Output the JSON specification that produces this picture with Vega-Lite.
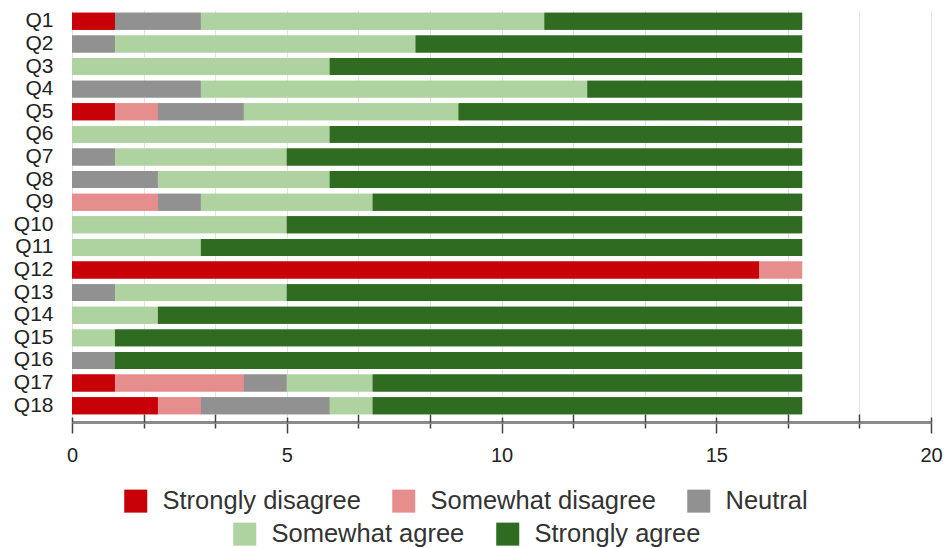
{
  "$schema": "https://vega.github.io/schema/vega-lite/v6.json",
  "width": 859,
  "height": 407,
  "autosize": {"type": "none"},
  "padding": {"left": 72, "top": 10, "right": 16, "bottom": 131},
  "config": {
    "font": "Liberation Sans",
    "view": {"stroke": null},
    "legend": {
      "labelFontSize": 25.5,
      "labelFont": "Liberation Sans",
      "labelColor": "#333333",
      "symbolType": "square",
      "symbolSize": 530,
      "symbolStrokeWidth": 0,
      "labelOffset": 14,
      "columnPadding": 30,
      "direction": "horizontal",
      "padding": 0,
      "labelLimit": 400
    }
  },
  "data": {
    "values": [
      {"q": "Q1", "r": "Strongly disagree", "n": 1},
      {"q": "Q1", "r": "Neutral", "n": 2},
      {"q": "Q1", "r": "Somewhat agree", "n": 8},
      {"q": "Q1", "r": "Strongly agree", "n": 6},
      {"q": "Q2", "r": "Neutral", "n": 1},
      {"q": "Q2", "r": "Somewhat agree", "n": 7},
      {"q": "Q2", "r": "Strongly agree", "n": 9},
      {"q": "Q3", "r": "Somewhat agree", "n": 6},
      {"q": "Q3", "r": "Strongly agree", "n": 11},
      {"q": "Q4", "r": "Neutral", "n": 3},
      {"q": "Q4", "r": "Somewhat agree", "n": 9},
      {"q": "Q4", "r": "Strongly agree", "n": 5},
      {"q": "Q5", "r": "Strongly disagree", "n": 1},
      {"q": "Q5", "r": "Somewhat disagree", "n": 1},
      {"q": "Q5", "r": "Neutral", "n": 2},
      {"q": "Q5", "r": "Somewhat agree", "n": 5},
      {"q": "Q5", "r": "Strongly agree", "n": 8},
      {"q": "Q6", "r": "Somewhat agree", "n": 6},
      {"q": "Q6", "r": "Strongly agree", "n": 11},
      {"q": "Q7", "r": "Neutral", "n": 1},
      {"q": "Q7", "r": "Somewhat agree", "n": 4},
      {"q": "Q7", "r": "Strongly agree", "n": 12},
      {"q": "Q8", "r": "Neutral", "n": 2},
      {"q": "Q8", "r": "Somewhat agree", "n": 4},
      {"q": "Q8", "r": "Strongly agree", "n": 11},
      {"q": "Q9", "r": "Somewhat disagree", "n": 2},
      {"q": "Q9", "r": "Neutral", "n": 1},
      {"q": "Q9", "r": "Somewhat agree", "n": 4},
      {"q": "Q9", "r": "Strongly agree", "n": 10},
      {"q": "Q10", "r": "Somewhat agree", "n": 5},
      {"q": "Q10", "r": "Strongly agree", "n": 12},
      {"q": "Q11", "r": "Somewhat agree", "n": 3},
      {"q": "Q11", "r": "Strongly agree", "n": 14},
      {"q": "Q12", "r": "Strongly disagree", "n": 16},
      {"q": "Q12", "r": "Somewhat disagree", "n": 1},
      {"q": "Q13", "r": "Neutral", "n": 1},
      {"q": "Q13", "r": "Somewhat agree", "n": 4},
      {"q": "Q13", "r": "Strongly agree", "n": 12},
      {"q": "Q14", "r": "Somewhat agree", "n": 2},
      {"q": "Q14", "r": "Strongly agree", "n": 15},
      {"q": "Q15", "r": "Somewhat agree", "n": 1},
      {"q": "Q15", "r": "Strongly agree", "n": 16},
      {"q": "Q16", "r": "Neutral", "n": 1},
      {"q": "Q16", "r": "Strongly agree", "n": 16},
      {"q": "Q17", "r": "Strongly disagree", "n": 1},
      {"q": "Q17", "r": "Somewhat disagree", "n": 3},
      {"q": "Q17", "r": "Neutral", "n": 1},
      {"q": "Q17", "r": "Somewhat agree", "n": 2},
      {"q": "Q17", "r": "Strongly agree", "n": 10},
      {"q": "Q18", "r": "Strongly disagree", "n": 2},
      {"q": "Q18", "r": "Somewhat disagree", "n": 1},
      {"q": "Q18", "r": "Neutral", "n": 3},
      {"q": "Q18", "r": "Somewhat agree", "n": 1},
      {"q": "Q18", "r": "Strongly agree", "n": 10}
    ]
  },
  "transform": [
    {"calculate": "indexof(['Strongly disagree','Somewhat disagree','Neutral','Somewhat agree','Strongly agree'], datum.r)", "as": "o"}
  ],
  "encoding": {
    "y": {
      "field": "q",
      "type": "nominal",
      "sort": null,
      "scale": {"paddingInner": 0.25, "paddingOuter": 0.125},
      "axis": {
        "title": null,
        "domain": false,
        "ticks": false,
        "tickSize": 0,
        "labelPadding": 19,
        "labelFontSize": 21,
        "labelColor": "#222222",
        "labelFont": "Liberation Sans"
      }
    },
    "order": {"field": "o", "type": "quantitative"}
  },
  "layer": [
    {
      "mark": {"type": "bar"},
      "encoding": {
        "x": {
          "field": "n",
          "type": "quantitative",
          "stack": "zero",
          "scale": {"domain": [0, 20], "nice": false},
          "axis": {
            "orient": "bottom",
            "title": null,
            "offset": 5,
            "values": [0, 1.6666667, 3.3333333, 5, 6.6666667, 8.3333333, 10, 11.6666667, 13.3333333, 15, 16.6666667, 18.3333333, 20],
            "labelExpr": "abs(datum.value - round(datum.value / 5) * 5) < 0.01 ? format(datum.value, 'd') : ''",
            "labelFontSize": 20,
            "labelColor": "#222222",
            "labelPadding": 12,
            "labelFlush": false,
            "labelOverlap": false,
            "grid": true,
            "gridColor": "#e3e3e3",
            "gridWidth": 1,
            "domain": true,
            "domainColor": "#8a8a8a",
            "domainWidth": 3,
            "tickColor": "#444444",
            "tickWidth": 1.5,
            "tickSize": {"condition": {"test": "abs(datum.value - round(datum.value / 5) * 5) < 0.01", "value": 11}, "value": 6}
          }
        },
        "color": {
          "field": "r",
          "type": "nominal",
          "scale": {
            "domain": ["Strongly disagree", "Somewhat disagree", "Neutral", "Somewhat agree", "Strongly agree"],
            "range": ["#c80008", "#e68e8e", "#919191", "#afd2a1", "#306b22"]
          },
          "legend": {
            "title": null,
            "orient": "none",
            "legendX": 51,
            "legendY": 478,
            "values": ["Strongly disagree", "Somewhat disagree", "Neutral"]
          }
        }
      }
    },
    {
      "mark": {"type": "bar"},
      "encoding": {
        "x": {
          "field": "n",
          "type": "quantitative",
          "stack": "zero",
          "scale": {"domain": [0, 20], "nice": false},
          "axis": {
            "orient": "bottom",
            "title": null,
            "offset": 5,
            "values": [0, 1.6666667, 3.3333333, 5, 6.6666667, 8.3333333, 10, 11.6666667, 13.3333333, 15, 16.6666667, 18.3333333, 20],
            "labels": false,
            "grid": false,
            "domain": false,
            "tickColor": "#444444",
            "tickWidth": 1.5,
            "tickSize": {"condition": {"test": "abs(datum.value - round(datum.value / 5) * 5) < 0.01", "value": -5}, "value": -8}
          }
        },
        "color": {
          "field": "r",
          "type": "nominal",
          "legend": {
            "title": null,
            "orient": "none",
            "legendX": 160,
            "legendY": 511,
            "values": ["Somewhat agree", "Strongly agree"]
          }
        }
      }
    }
  ],
  "resolve": {"axis": {"x": "independent"}, "legend": {"color": "independent"}}
}
